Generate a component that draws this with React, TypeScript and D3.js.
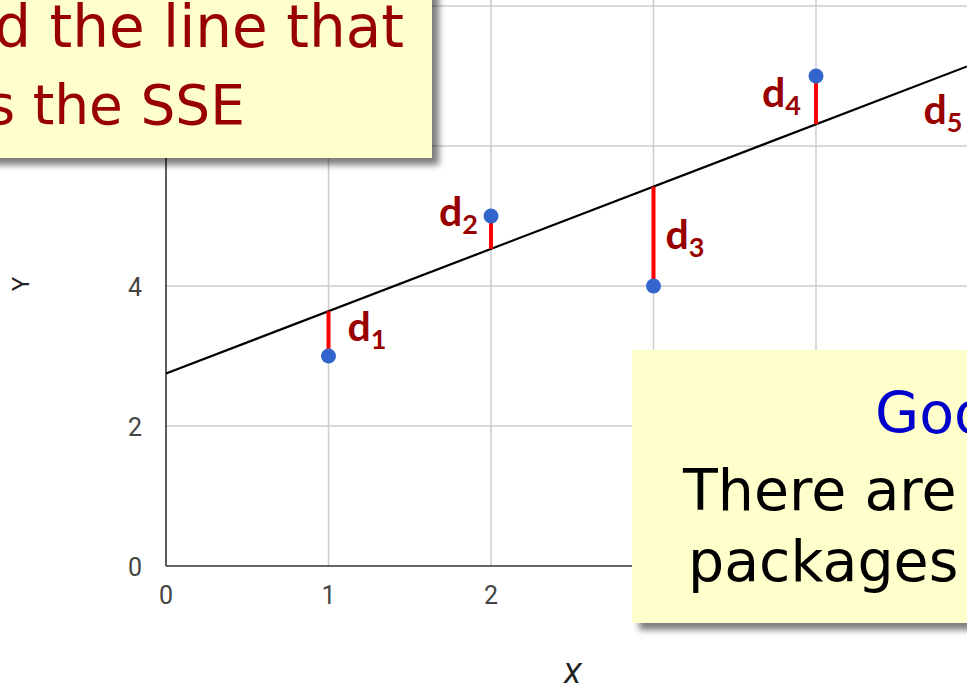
import React, { useEffect, useRef } from 'react';
import * as d3 from 'd3';

// observed points
const xValues = [1, 2, 3, 4, 5];
const yValues = [3, 5, 4, 7, 6];
const residualSubs = ['1', '2', '3', '4', '5'];

// fitted line  y = a + b x
const fitIntercept = 2.75;
const fitSlope = 0.89;

const xTicks = [0, 1, 2, 3, 4, 5];
const yTicks = [0, 2, 4, 6, 8];

// where each d_i label sits next to its segment
const labelSide = ['right', 'left', 'right', 'left', 'left'];
const labelNudge = [
  { dx: 19, dy: 7 },
  { dx: -13, dy: -6 },
  { dx: 12, dy: 13 },
  { dx: -15, dy: 7 },
  { dx: -16, dy: 20 },
];

const topNote = ['Find the line that', 'minimizes the SSE'];
const bottomNote = ['Good news!', 'There are software', 'packages for this'];

const W = 967;
const H = 683;

export default function App() {
  const ref = useRef<SVGSVGElement | null>(null);

  useEffect(() => {
    const svg = d3.select(ref.current);
    svg.selectAll('*').remove();

    const x = d3.scaleLinear().domain([0, 5]).range([166, 978.5]);
    const y = d3.scaleLinear().domain([0, 8]).range([566, 6]);
    const fit = (v: number) => fitIntercept + fitSlope * v;

    const defs = svg.append('defs');
    const f = defs.append('filter').attr('id', 'shadow')
      .attr('x', '-10%').attr('y', '-10%').attr('width', '130%').attr('height', '130%');
    f.append('feDropShadow')
      .attr('dx', 7).attr('dy', 7).attr('stdDeviation', 3)
      .attr('flood-color', '#000').attr('flood-opacity', 0.5);

    svg.append('rect').attr('width', W).attr('height', H).attr('fill', '#fff');

    // grid
    svg.append('g').selectAll('line')
      .data(yTicks.filter(d => d > 0))
      .enter().append('line')
      .attr('x1', x(0)).attr('x2', W)
      .attr('y1', d => y(d)).attr('y2', d => y(d))
      .attr('stroke', '#cccccc').attr('stroke-width', 1.5);

    svg.append('g').selectAll('line')
      .data(xTicks.filter(d => d > 0))
      .enter().append('line')
      .attr('x1', d => x(d)).attr('x2', d => x(d))
      .attr('y1', y(0)).attr('y2', 0)
      .attr('stroke', '#cccccc').attr('stroke-width', 1.5);

    // axes
    svg.append('line')
      .attr('x1', x(0)).attr('x2', x(0)).attr('y1', y(0)).attr('y2', 0)
      .attr('stroke', '#333').attr('stroke-width', 1.6);
    svg.append('line')
      .attr('x1', x(0)).attr('x2', W).attr('y1', y(0)).attr('y2', y(0))
      .attr('stroke', '#333').attr('stroke-width', 1.6);

    svg.append('g').selectAll('text')
      .data(yTicks)
      .enter().append('text')
      .attr('x', 142).attr('y', d => y(d) + 9.5)
      .attr('text-anchor', 'end')
      .attr('font-family', 'Roboto, Arial, sans-serif')
      .attr('font-size', 25).attr('fill', '#444')
      .text(d => d);

    svg.append('g').selectAll('text')
      .data(xTicks)
      .enter().append('text')
      .attr('x', d => x(d)).attr('y', 604)
      .attr('text-anchor', 'middle')
      .attr('font-family', 'Roboto, Arial, sans-serif')
      .attr('font-size', 25).attr('fill', '#444')
      .text(d => d);

    svg.append('text')
      .attr('transform', 'translate(29,284) rotate(-90)')
      .attr('text-anchor', 'middle')
      .attr('font-family', 'Roboto, Arial, sans-serif')
      .attr('font-size', 24).attr('fill', '#222')
      .text('Y');

    svg.append('text')
      .attr('x', 572).attr('y', 684)
      .attr('text-anchor', 'middle')
      .attr('font-family', 'Roboto, Arial, sans-serif')
      .attr('font-style', 'italic')
      .attr('font-size', 30).attr('fill', '#222')
      .text('X');

    // fitted line
    const xEnd = x.invert(W);
    svg.append('line')
      .attr('x1', x(0)).attr('y1', y(fit(0)))
      .attr('x2', x(xEnd)).attr('y2', y(fit(xEnd)))
      .attr('stroke', '#000').attr('stroke-width', 2.2);

    const pts = xValues.map((v, i) => ({ x: v, y: yValues[i], i }));

    // residuals
    svg.append('g').selectAll('line')
      .data(pts)
      .enter().append('line')
      .attr('x1', d => x(d.x)).attr('x2', d => x(d.x))
      .attr('y1', d => y(d.y)).attr('y2', d => y(fit(d.x)))
      .attr('stroke', '#ff0000').attr('stroke-width', 4);

    svg.append('g').selectAll('circle')
      .data(pts)
      .enter().append('circle')
      .attr('cx', d => x(d.x)).attr('cy', d => y(d.y))
      .attr('r', 7.5).attr('fill', '#3366cc');

    const labels = svg.append('g').selectAll('text')
      .data(pts)
      .enter().append('text')
      .attr('x', d => x(d.x) + labelNudge[d.i].dx)
      .attr('y', d => (y(d.y) + y(fit(d.x))) / 2 + labelNudge[d.i].dy)
      .attr('text-anchor', d => (labelSide[d.i] === 'right' ? 'start' : 'end'))
      .attr('font-family', 'Lato, sans-serif')
      .attr('font-weight', 700)
      .attr('fill', '#990000');
    labels.append('tspan').attr('font-size', 41).text('d');
    labels.append('tspan').attr('font-size', 27).attr('dy', 8).text(d => residualSubs[d.i]);

    // note boxes
    svg.append('rect')
      .attr('x', -30).attr('y', -30).attr('width', 462).attr('height', 188)
      .attr('fill', '#ffffcc').attr('filter', 'url(#shadow)');
    svg.append('g').selectAll('text')
      .data(topNote)
      .enter().append('text')
      .attr('x', (d, i) => (i === 0 ? 404 : 245))
      .attr('y', (d, i) => 47 + i * 77)
      .attr('text-anchor', 'end')
      .attr('font-family', 'DejaVu Sans, sans-serif')
      .attr('font-size', (d, i) => (i === 0 ? 58 : 55)).attr('fill', '#990000')
      .text(d => d);

    svg.append('rect')
      .attr('x', 632).attr('y', 350).attr('width', 420).attr('height', 273)
      .attr('fill', '#ffffcc').attr('filter', 'url(#shadow)');
    svg.append('g').selectAll('text')
      .data(bottomNote)
      .enter().append('text')
      .attr('x', (d, i) => [875, 683, 688][i])
      .attr('y', (d, i) => [433, 510, 581][i])
      .attr('font-family', 'DejaVu Sans, sans-serif')
      .attr('font-size', 57).attr('fill', (d, i) => (i === 0 ? '#0000cc' : '#000'))
      .text(d => d);
  }, []);

  return (
    <svg
      ref={ref}
      width={W}
      height={H}
      style={{ position: 'fixed', left: 0, top: 0, display: 'block' }}
    />
  );
}
